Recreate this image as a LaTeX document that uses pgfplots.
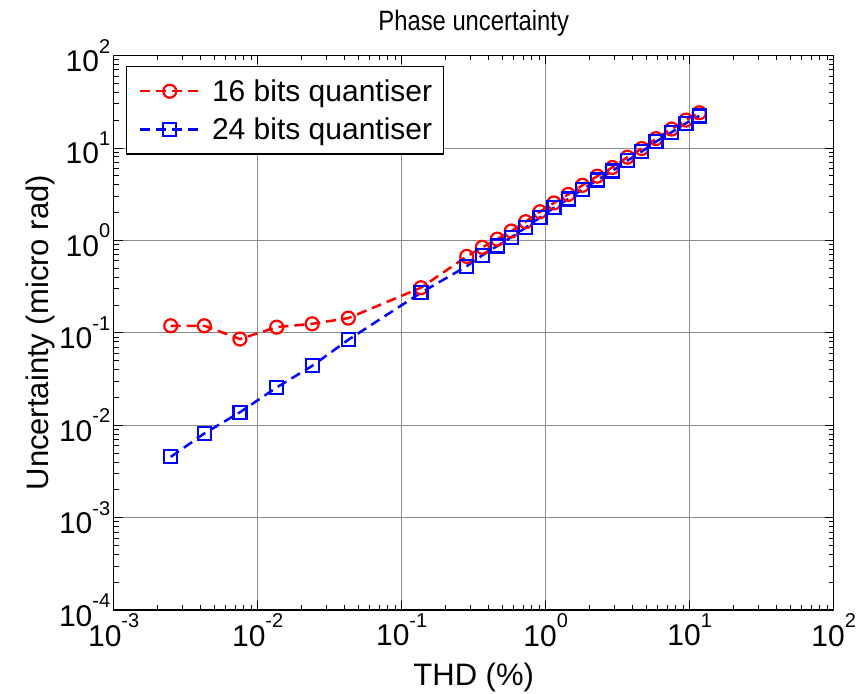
\documentclass[border=0pt]{standalone}
\usepackage{pgfplots}
\pgfplotsset{compat=1.18}
\usepackage{fontspec}
\setmainfont{Liberation Sans}
\newcommand{\tl}[1]{10\raisebox{0.62em}{\fontsize{20bp}{20bp}\selectfont #1}}
\definecolor{mred}{RGB}{255,0,0}
\definecolor{mblue}{RGB}{0,0,255}
\begin{document}
\begin{tikzpicture}
\begin{axis}[
  name=ax,
  xmode=log, ymode=log,
  scale only axis, width=720bp, height=554.5bp,
  xmin=1e-3, xmax=1e2, ymin=1e-4, ymax=1e2,
  xtick={1e-3,1e-2,1e-1,1,10,100},
  xticklabels={\tl{-3},\tl{-2},\tl{-1},\tl{0},\tl{1},\tl{2}},
  ytick={1e-4,1e-3,1e-2,1e-1,1,10,100},
  yticklabels={\tl{-4},\tl{-3},\tl{-2},\tl{-1},\tl{0},\tl{1},\tl{2}},
  tick label style={font=\fontsize{30bp}{30bp}\selectfont},
  grid=major, major grid style={black!45, line width=0.7bp},
  tick align=inside, major tick length=9bp, minor tick length=5bp,
  every tick/.style={black, line width=0.8bp},
  axis line style={line width=1.4bp},
  title={\scalebox{0.85}[1]{\fontsize{28bp}{30bp}\selectfont Phase uncertainty}},
  title style={yshift=10bp},
  xlabel={THD (\%)},
  ylabel={Uncertainty (micro rad)},
  label style={font=\fontsize{31bp}{36bp}\selectfont},
  xlabel style={yshift=-10bp},
  ylabel style={yshift=-3bp},
  legend cell align=left,
  legend style={at={(axis description cs:0.017,0.981)}, anchor=north west,
    font=\fontsize{30bp}{34bp}\selectfont, draw=black, line width=1.2bp,
    inner xsep=9bp, inner ysep=11bp, row sep=11bp},
  legend image code/.code={\draw[mark repeat=2,mark phase=2,#1] plot coordinates {(0bp,0bp) (30bp,0bp) (60bp,0bp)}; \path (-3bp,0bp) (69bp,0bp);},
]
\addplot[color=mred, line width=2.5bp, dash pattern=on 10bp off 6bp, mark=o, mark size=6.5bp, mark options={solid, line width=2.2bp}]
coordinates {
(0.00249,0.119) (0.00426,0.119) (0.00753,0.0855) (0.01355,0.115) (0.0239,0.125) (0.0426,0.144)
(0.136,0.307) (0.283,0.67) (0.363,0.84) (0.461,1.03) (0.577,1.26) (0.726,1.59) (0.913,2.04)
(1.142,2.54) (1.435,3.14) (1.80,3.94) (2.28,4.95) (2.90,6.14) (3.69,7.94) (4.64,9.85)
(5.83,12.6) (7.50,16.0) (9.42,20.0) (11.66,24.0)
};
\addlegendentry{16 bits quantiser}
\addplot[color=mblue, line width=2.5bp, dash pattern=on 10bp off 6bp, mark=square, mark size=6.5bp, mark options={solid, line width=2.2bp}]
coordinates {
(0.00249,0.00454) (0.00426,0.00813) (0.00753,0.0138) (0.01355,0.0256) (0.0239,0.0438) (0.0426,0.0839)
(0.136,0.271) (0.283,0.525) (0.363,0.69) (0.461,0.87) (0.577,1.08) (0.726,1.37) (0.913,1.77)
(1.142,2.25) (1.435,2.8) (1.80,3.55) (2.28,4.5) (2.90,5.63) (3.69,7.28) (4.64,9.12)
(5.83,11.7) (7.50,14.8) (9.42,18.5) (11.66,22.2)
};
\addlegendentry{24 bits quantiser}
\end{axis}
\pgfresetboundingbox
\path[use as bounding box] ([xshift=-113.7bp,yshift=-84bp]ax.south west) rectangle ([xshift=27.3bp,yshift=55.5bp]ax.north east);
\end{tikzpicture}
\end{document}
